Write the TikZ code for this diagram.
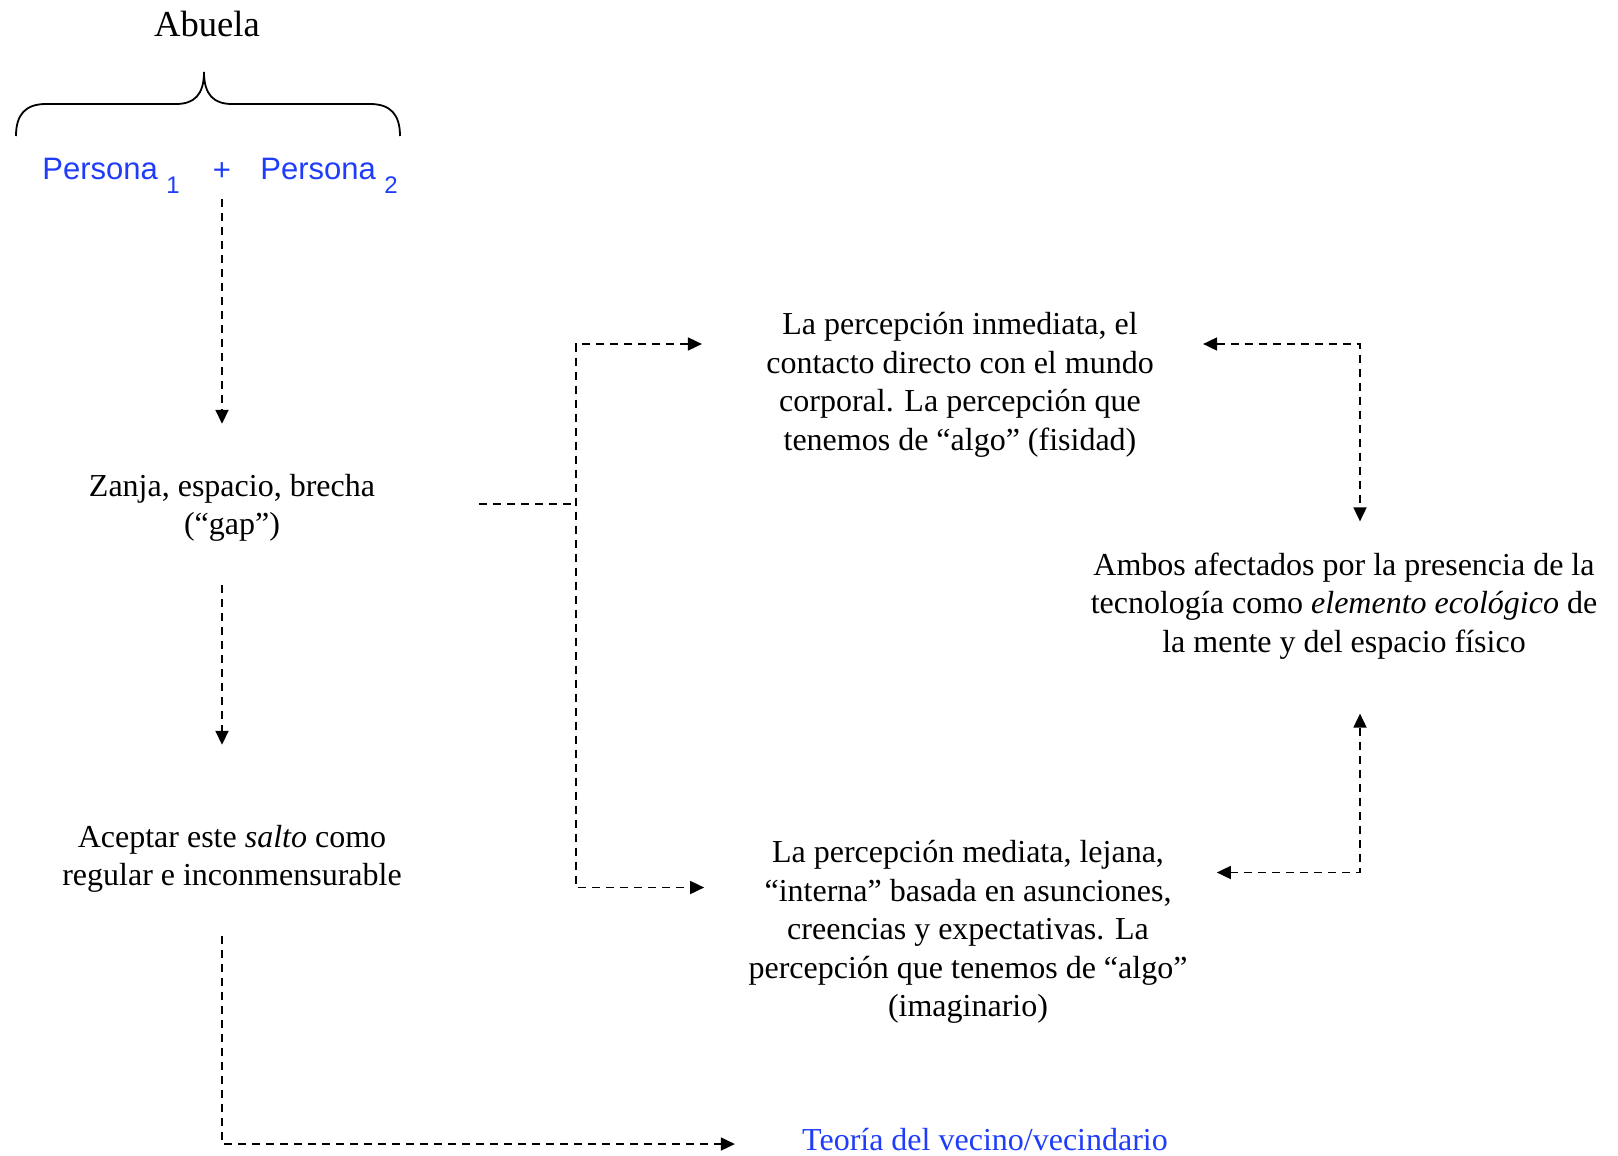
\documentclass[tikz,border=0pt]{standalone}
\usepackage{fontspec}
\setmainfont{Liberation Serif}
\newfontfamily\arialfont{Liberation Sans}
\usepackage{xcolor}
\usetikzlibrary{arrows.meta}
\definecolor{pblue}{RGB}{30,60,250}

\begin{document}
\begin{tikzpicture}[x=0.5pt, y=-0.5pt,
  txt/.style={inner sep=0pt, align=center, font=\fontsize{16}{19.25}\selectfont},
  pers/.style={anchor=base west, inner sep=0pt, text=pblue, font=\arialfont\fontsize{15.5}{18}\selectfont},
  dline/.style={dash pattern=on 4pt off 3pt, line width=0.9pt},
  conn/.style={dline, -{Triangle[length=7pt,width=6.5pt]}},
  bothconn/.style={dline, {Triangle[length=7pt,width=6.5pt]}-{Triangle[length=7pt,width=6.5pt]}}]

\useasboundingbox (0,0) rectangle (1618,1156);

\node[inner sep=0pt, anchor=base, font=\fontsize{18.3}{20}\selectfont] (abuela) at (207,37) {Abuela};

\draw[line width=0.9pt] (16,136) .. controls (16,115) and (25,104) .. (46,104) -- (176,104) .. controls (194,104) and (204,95) .. (204,72) .. controls (204,95) and (214,104) .. (232,104) -- (370,104) .. controls (391,104) and (400,115) .. (400,136);

\node[pers] (p1) at (42,180) {Persona \raisebox{-6.5pt}{\fontsize{12}{12}\selectfont 1}};
\node[pers, anchor=center] (plus) at (222,172) {+};
\node[pers] (p2) at (260,180) {Persona \raisebox{-6.5pt}{\fontsize{12}{12}\selectfont 2}};

\node[txt] (zanja) at (232,508) {Zanja, espacio, brecha\\(“gap”)};
\node[txt] (aceptar) at (232,859) {Aceptar este \textit{salto} como\\regular e inconmensurable};
\node[txt, anchor=base, text=pblue] (teoria) at (985,1150) {Teoría del vecino/vecindario};

\node[txt] (inmed) at (960,385) {La percepción inmediata, el\\contacto directo con el mundo\\corporal. La percepción que\\tenemos de “algo” (fisidad)};
\node[txt] (mediata) at (968,932) {La percepción mediata, lejana,\\“interna” basada en asunciones,\\creencias y expectativas. La\\percepción que tenemos de “algo”\\(imaginario)};
\node[txt] (ambos) at (1344,606) {Ambos afectados por la presencia de la\\tecnología como \textit{elemento ecológico} de\\la mente y del espacio físico};

\coordinate (fork) at (576,504);

\draw[conn, shorten <=9pt, shorten >=25pt] (plus.south) -- (plus |- zanja.north);

\draw[conn, shorten <=21.5pt, shorten >=40pt] (plus |- zanja.south) -- (plus |- aceptar.north);

\draw[conn, shorten <=21.5pt, shorten >=33.5pt] (plus |- aceptar.south) |- ([yshift=-2.5pt]teoria.west);

\draw[dline, shorten <=52pt] (fork -| zanja.east) -- (fork);

\draw[bothconn, shorten <=32pt, shorten >=22pt] ([yshift=20.5pt]inmed.west) -| (fork) |- ([yshift=22.25pt]mediata.west);

\draw[bothconn, shorten <=24.5pt, shorten >=15.5pt] ([yshift=20.5pt]inmed.east) -| ([xshift=8pt]ambos.north);

\draw[bothconn, shorten <=14.5pt, shorten >=27pt] ([yshift=29.75pt]mediata.east) -| ([xshift=8pt]ambos.south);

\end{tikzpicture}
\end{document}
